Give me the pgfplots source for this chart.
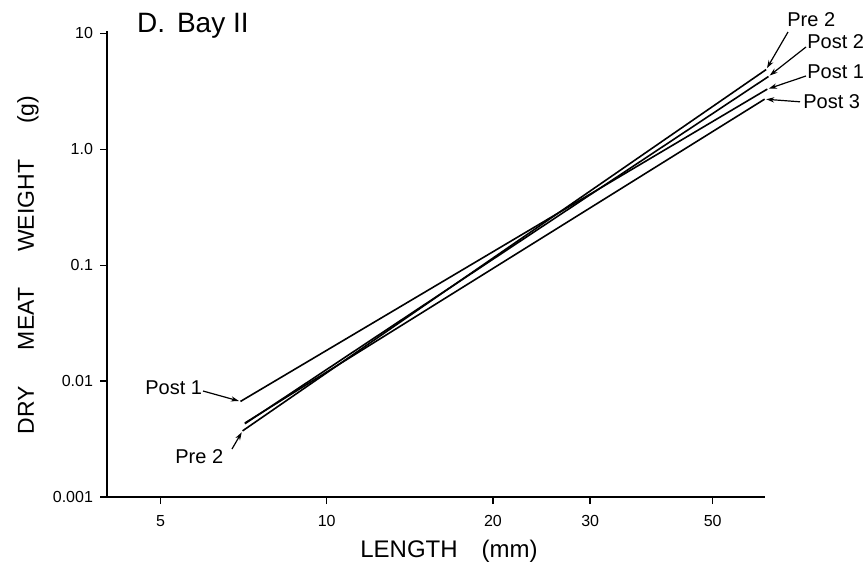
\documentclass[border=0pt]{standalone}
\usepackage{fontspec}
\setmainfont{Liberation Sans}
\usepackage{pgfplots}
\pgfplotsset{compat=1.18}
\usetikzlibrary{arrows.meta}

\begin{document}
\begin{tikzpicture}
% fixed page frame around the plot area (origin = lower left of the axis box)
\useasboundingbox (-53.5pt,-36.5pt) rectangle (380.5pt,248.5pt);
\begin{axis}[
  at={(0pt,0pt)}, anchor=south west,
  scale only axis, width=329pt, height=233pt,
  xmode=log, ymode=log,
  xmin=4, xmax=62.2, ymin=0.001, ymax=10.5,
  axis x line*=bottom, axis y line*=left,
  axis line style={line width=1pt},
  xtick={5,10,20,30,50}, xticklabels={5,10,20,30,50},
  ytick={0.001,0.01,0.1,1,10}, yticklabels={0.001,0.01,0.1,1.0,10},
  xminorticks=false, yminorticks=false,
  tick align=outside, major tick length=3.5pt,
  tick style={line width=0.7pt, black},
  ticklabel style={font=\fontsize{8}{9.5}\selectfont},
  xticklabel style={yshift=-2pt},
  clip=false,
]
% length-weight regressions (log-log), end points of each fitted line
\addplot[black, line width=0.8pt] coordinates {(6.98,0.00668) (62.8,3.31)};   % Post 1
\addplot[black, line width=0.8pt] coordinates {(7.04,0.00372) (62.5,4.88)};   % Pre 2
\addplot[black, line width=0.8pt] coordinates {(7.11,0.00429) (63.1,4.25)};   % Post 2
\addplot[black, line width=0.8pt] coordinates {(7.11,0.00435) (62.1,2.71)};   % Post 3

\coordinate (post1lo) at (axis cs:6.98,0.00668);
\coordinate (pre2lo)  at (axis cs:7.04,0.00372);
\coordinate (post1hi) at (axis cs:62.8,3.31);
\coordinate (pre2hi)  at (axis cs:62.5,4.88);
\coordinate (post2hi) at (axis cs:63.1,4.25);
\coordinate (post3hi) at (axis cs:62.1,2.71);
\end{axis}

% title
\node[anchor=west, font=\fontsize{14}{16}\selectfont] at (11.5pt,235.5pt) {D.\hspace{6pt}Bay II};

% axis titles
\node[rotate=90, font=\fontsize{11.5}{13}\selectfont] at (-39.5pt,116pt)
  {DRY\hspace{18pt}MEAT\hspace{18pt}WEIGHT\hspace{18pt}(g)};
\node[font=\fontsize{12}{14}\selectfont] at (171pt,-27pt)
  {LENGTH\hspace{12pt}(mm)};

% line labels with pointers
\begin{scope}[font=\fontsize{10}{12}\selectfont, inner sep=0pt]
  \node[anchor=west] at (340pt,238.5pt) {Pre 2};
  \node[anchor=west] at (350pt,227.5pt) {Post 2};
  \node[anchor=west] at (350pt,212.5pt) {Post 1};
  \node[anchor=west] at (348pt,197.5pt) {Post 3};
  \node[anchor=west] at (19pt,54.5pt) {Post 1};
  \node[anchor=west] at (34pt,20pt) {Pre 2};
\end{scope}
\begin{scope}[line width=0.6pt, -{Stealth[length=4pt,width=2.6pt]}, shorten >=0.8pt]
  \draw (340.5pt,232.5pt) -- (pre2hi);
  \draw (349.5pt,225pt) -- (post2hi);
  \draw (349.5pt,210.5pt) -- (post1hi);
  \draw (346.5pt,197.6pt) -- (post3hi);
  \draw (48pt,53pt) -- (post1lo);
  \draw (62.5pt,24pt) -- (pre2lo);
\end{scope}
\end{tikzpicture}
\end{document}
